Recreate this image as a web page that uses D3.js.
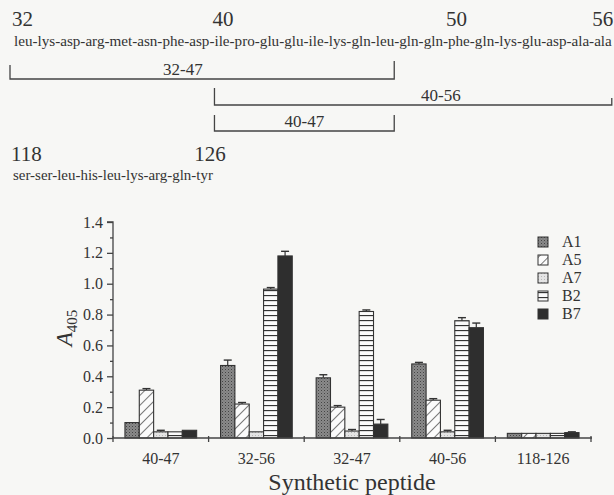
<!DOCTYPE html>
<html>
<head>
<meta charset="utf-8">
<script src="https://cdn.jsdelivr.net/npm/d3@7"></script>
<style>
  body { margin: 0; background: #f7f7f5; }
  svg { display: block; font-family: "Liberation Serif", "DejaVu Serif", serif; }
  text { fill: #333; }
</style>
</head>
<body>
<div id="chart"></div>
<script>
// peptide sequences shown above the chart
const seqMain = ["leu","lys","asp","arg","met","asn","phe","asp","ile","pro","glu","glu","ile",
                 "lys","gln","leu","gln","gln","phe","gln","lys","glu","asp","ala","ala"];
const seqMainStart = 32;
const seqMainMarks = [32, 40, 50, 56];
const seqSmall = ["ser","ser","leu","his","leu","lys","arg","gln","tyr"];
const seqSmallStart = 118;
const seqSmallMarks = [118, 126];
const brackets = [
  {name: "32-47", from: 32, to: 47},
  {name: "40-56", from: 40, to: 56},
  {name: "40-47", from: 40, to: 47}
];

// bar chart data
const categories = ["40-47", "32-56", "32-47", "40-56", "118-126"];
const series = ["A1", "A5", "A7", "B2", "B7"];
const A1 = [0.10, 0.47, 0.39, 0.48, 0.03];
const A5 = [0.31, 0.22, 0.20, 0.245, 0.03];
const A7 = [0.04, 0.04, 0.045, 0.04, 0.03];
const B2 = [0.04, 0.965, 0.82, 0.76, 0.03];
const B7 = [0.05, 1.18, 0.09, 0.715, 0.035];
const A1err = [0, 0.035, 0.02, 0.01, 0];
const A5err = [0.01, 0.01, 0.01, 0.01, 0];
const A7err = [0.01, 0, 0.01, 0.01, 0];
const B2err = [0, 0.01, 0.01, 0.02, 0];
const B7err = [0, 0.03, 0.03, 0.03, 0.005];
const yTicks = [0, 0.2, 0.4, 0.6, 0.8, 1.0, 1.2, 1.4];

const values = {A1, A5, A7, B2, B7};
const errs = {A1: A1err, A5: A5err, A7: A7err, B2: B2err, B7: B7err};

const W = 614, H = 495;
const svg = d3.select('#chart').append('svg').attr('width', W).attr('height', H);

// fill patterns
const defs = svg.append('defs');
let p = defs.append('pattern').attr('id', 'pA1').attr('patternUnits', 'userSpaceOnUse')
  .attr('width', 3).attr('height', 3);
p.append('rect').attr('width', 3).attr('height', 3).attr('fill', '#8a8a8a');
p.append('rect').attr('width', 1).attr('height', 1).attr('fill', '#444');
p.append('rect').attr('x', 1.5).attr('y', 1.5).attr('width', 1).attr('height', 1).attr('fill', '#666');

p = defs.append('pattern').attr('id', 'pA5').attr('patternUnits', 'userSpaceOnUse')
  .attr('width', 7).attr('height', 7).attr('patternTransform', 'rotate(45)');
p.append('rect').attr('width', 7).attr('height', 7).attr('fill', '#fbfbfb');
p.append('line').attr('x1', 0).attr('y1', 0).attr('x2', 0).attr('y2', 7)
  .attr('stroke', '#333').attr('stroke-width', 1.3);

p = defs.append('pattern').attr('id', 'pA7').attr('patternUnits', 'userSpaceOnUse')
  .attr('width', 3).attr('height', 3);
p.append('rect').attr('width', 3).attr('height', 3).attr('fill', '#e4e4e4');
p.append('rect').attr('width', 1).attr('height', 1).attr('fill', '#b8b8b8');

p = defs.append('pattern').attr('id', 'pB2').attr('patternUnits', 'userSpaceOnUse')
  .attr('width', 6).attr('height', 5);
p.append('rect').attr('width', 6).attr('height', 5).attr('fill', '#fbfbfb');
p.append('line').attr('x1', 0).attr('y1', 0.5).attr('x2', 6).attr('y2', 0.5)
  .attr('stroke', '#333').attr('stroke-width', 1.3);

const fills = {A1: 'url(#pA1)', A5: 'url(#pA5)', A7: 'url(#pA7)', B2: 'url(#pB2)', B7: '#2e2e2e'};

// ---- sequence text, fitted to width, residues measured for brackets
function drawSeq(residues, startNum, marks, xStart, baseline, width, markBaseline) {
  const t = svg.append('text').attr('x', xStart).attr('y', baseline)
    .style('font-size', '14px').text(residues.join('-'));
  const fs = 14 * width / t.node().getComputedTextLength();
  t.style('font-size', fs + 'px');
  const node = t.node();
  const pos = residues.map((r, i) => ({
    num: startNum + i,
    x0: xStart + (i ? node.getSubStringLength(0, i * 4) : 0),
    x1: xStart + node.getSubStringLength(0, i * 4 + 3)
  }));
  marks.forEach(m => {
    const r = pos[m - startNum];
    svg.append('text').attr('x', r.x0 - 2).attr('y', markBaseline)
      .style('font-size', '21px').text(m);
  });
  return pos;
}

const mainPos = drawSeq(seqMain, seqMainStart, seqMainMarks, 14, 46, 598, 26);
drawSeq(seqSmall, seqSmallStart, seqSmallMarks, 13, 180, 200, 161);

// brackets below the main sequence
const bracketRows = [
  {line: 79, lt: 65, rt: 61, lab: 0.45},
  {line: 105, lt: 88, rt: 98, lab: 0.57},
  {line: 131, lt: 115, rt: 115, lab: 0.5}
];
brackets.forEach((b, i) => {
  const row = bracketRows[i];
  const xa = mainPos[b.from - seqMainStart].x0 - (b.from === seqMainStart ? 4 : 0);
  const xb = Math.min(mainPos[b.to - seqMainStart].x1, W - 2);
  svg.append('path')
    .attr('d', `M${xa},${row.lt}V${row.line}H${xb}V${row.rt}`)
    .attr('fill', 'none').attr('stroke', '#444').attr('stroke-width', 1.3);
  svg.append('text').attr('x', xa + (xb - xa) * row.lab).attr('y', row.line - 4)
    .attr('text-anchor', 'middle').style('font-size', '17px').text(b.name);
});

// ---- bar chart
const plotL = 113, plotR = 591, plotT = 222, plotB = 438;
const x0 = d3.scaleBand().domain(categories).range([plotL, plotR]);
const x1 = d3.scaleBand().domain(series)
  .range([x0.bandwidth() * 0.125, x0.bandwidth() * 0.875]);
const y = d3.scaleLinear().domain([0, 1.4]).range([plotB, plotT]);

const g = svg.append('g');

categories.forEach((c, ci) => {
  series.forEach(s => {
    const v = values[s][ci], e = errs[s][ci];
    const bx = x0(c) + x1(s), bw = x1.bandwidth();
    if (e > 0) {
      g.append('line').attr('x1', bx + bw / 2).attr('x2', bx + bw / 2)
        .attr('y1', y(v)).attr('y2', y(v + e)).attr('stroke', '#333').attr('stroke-width', 1.2);
      g.append('line').attr('x1', bx + bw / 2 - 4).attr('x2', bx + bw / 2 + 4)
        .attr('y1', y(v + e)).attr('y2', y(v + e)).attr('stroke', '#333').attr('stroke-width', 1.4);
    }
    g.append('rect').attr('x', bx).attr('y', y(v)).attr('width', bw)
      .attr('height', y(0) - y(v)).attr('fill', fills[s])
      .attr('stroke', '#333').attr('stroke-width', 1.1);
  });
});

// y axis with minor ticks
const yAxis = g.append('g').attr('transform', `translate(${plotL},0)`)
  .call(d3.axisLeft(y).tickValues(yTicks).tickFormat(d3.format('.1f')).tickSize(6).tickPadding(4));
yAxis.append('g').call(d3.axisLeft(y).tickValues(d3.range(0.1, 1.4, 0.2)).tickSize(3).tickFormat(''))
  .select('.domain').remove();
yAxis.select('.domain').attr('d', `M-6,${plotT}H0V${plotB}`);
yAxis.selectAll('line, path').attr('stroke', '#444').attr('stroke-width', 1.3);
yAxis.selectAll('text').style('font-size', '16px').attr('fill', '#333')
  .style('font-family', '"Liberation Serif", serif');

// x axis: ticks at category boundaries
const bounds = categories.map(c => x0(c)).concat([plotR]);
const xAxis = g.append('g').attr('transform', `translate(0,${plotB})`);
xAxis.append('line').attr('x1', plotL).attr('x2', plotR + 1).attr('stroke', '#444').attr('stroke-width', 1.3);
xAxis.selectAll('.bt').data(bounds).join('line').attr('class', 'bt')
  .attr('x1', d => d).attr('x2', d => d).attr('y1', -2).attr('y2', 4)
  .attr('stroke', '#444').attr('stroke-width', 1.3);
xAxis.selectAll('.cl').data(categories).join('text').attr('class', 'cl')
  .attr('x', d => x0(d) + x0.bandwidth() / 2).attr('y', 26)
  .attr('text-anchor', 'middle').style('font-size', '16px').text(d => d);

svg.append('text').attr('x', (plotL + plotR) / 2).attr('y', 490)
  .attr('text-anchor', 'middle').style('font-size', '24px').text('Synthetic peptide');

// y label A405
const yl = svg.append('text').attr('transform', 'translate(72,328) rotate(-90)')
  .attr('text-anchor', 'middle').style('font-size', '23px');
yl.append('tspan').style('font-style', 'italic').text('A');
yl.append('tspan').attr('dy', 5).style('font-size', '15px').text('405');

// legend
const lg = svg.append('g').attr('transform', 'translate(538,237)');
series.forEach((s, i) => {
  lg.append('rect').attr('x', 0).attr('y', i * 18).attr('width', 10).attr('height', 10)
    .attr('fill', fills[s]).attr('stroke', '#333').attr('stroke-width', 1);
  lg.append('text').attr('x', 24).attr('y', i * 18 + 10).style('font-size', '16px').text(s);
});
</script>
</body>
</html>
